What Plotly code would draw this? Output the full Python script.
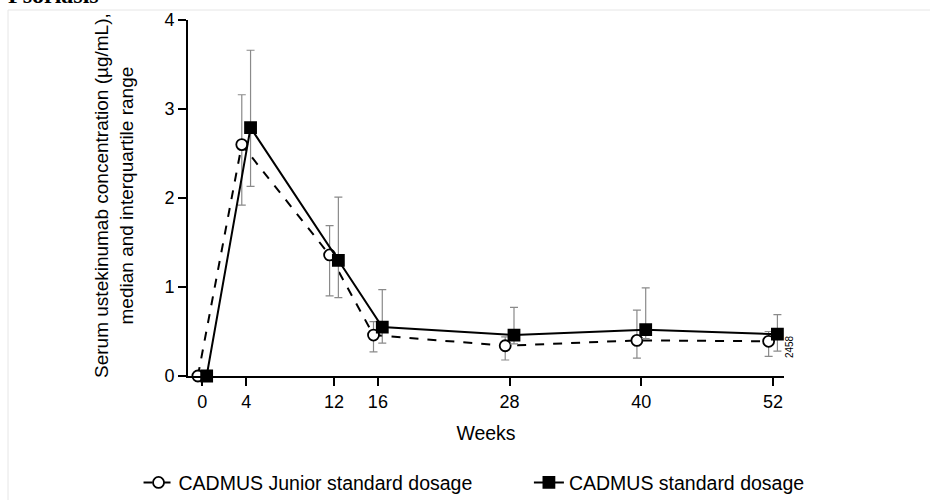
import plotly.graph_objects as go

weeks = [0, 4, 12, 16, 28, 40, 52]
week_ticks = [0, 4, 12, 16, 28, 40, 52]

junior_median = [0.0, 2.60, 1.36, 0.46, 0.34, 0.40, 0.39]
junior_q1 = [0.0, 1.92, 0.90, 0.27, 0.18, 0.20, 0.22]
junior_q3 = [0.0, 3.16, 1.69, 0.61, 0.44, 0.74, 0.50]

std_median = [0.0, 2.79, 1.30, 0.55, 0.46, 0.52, 0.47]
std_q1 = [0.0, 2.13, 0.88, 0.37, 0.36, 0.42, 0.28]
std_q3 = [0.0, 3.66, 2.01, 0.97, 0.77, 0.99, 0.69]

dodge = 0.4
FONT = "Liberation Sans, Arial, sans-serif"

fig = go.Figure()

def add_series(name, med, q1, q3, shift, dash, symbol, fill, legend):
    xs = [w + shift for w in weeks]
    fig.add_trace(go.Scatter(
        x=xs, y=med, name=name, mode="lines+markers", legend=legend,
        line=dict(color="black", width=2, dash=dash),
        marker=dict(symbol=symbol, size=11, color=fill,
                    line=dict(color="black", width=1.8)),
        error_y=dict(type="data", symmetric=False,
                     array=[h - m for h, m in zip(q3, med)],
                     arrayminus=[m - l for m, l in zip(med, q1)],
                     color="#8a8a8a", thickness=1.2, width=4),
        cliponaxis=False,
    ))

add_series("CADMUS Junior standard dosage", junior_median, junior_q1, junior_q3,
           -dodge, "dash", "circle", "white", "legend")
add_series("CADMUS standard dosage", std_median, std_q1, std_q3,
           dodge, "solid", "square", "black", "legend2")

legend_common = dict(orientation="h", yanchor="middle", y=-0.30, xanchor="left",
                     font=dict(size=19.5), bgcolor="rgba(0,0,0,0)")

fig.update_layout(
    width=930, height=500,
    margin=dict(l=188, r=146, t=20, b=124, autoexpand=False),
    paper_bgcolor="white", plot_bgcolor="white",
    font=dict(family=FONT, size=17, color="black"),
    showlegend=True,
    legend=dict(x=-0.083, **legend_common),
    legend2=dict(x=0.572, **legend_common),
    xaxis=dict(range=[-1.3, 53.0], tickmode="array", tickvals=week_ticks,
               ticktext=[str(t) for t in week_ticks],
               showline=True, linecolor="black", linewidth=2,
               ticks="outside", ticklen=8, tickwidth=2, tickcolor="black",
               showgrid=False, zeroline=False, automargin=False,
               title=dict(text="Weeks", font=dict(size=19.5), standoff=16),
               tickfont=dict(size=18)),
    yaxis=dict(range=[0, 4], tickvals=[0, 1, 2, 3, 4],
               showline=True, linecolor="black", linewidth=2,
               ticks="outside", ticklen=8, tickwidth=2, tickcolor="black",
               showgrid=False, zeroline=False, automargin=False,
               tickfont=dict(size=18)),
)

fig.add_annotation(
    text="Serum ustekinumab concentration (µg/mL),<br>median and interquartile range",
    xref="paper", yref="paper", x=-0.124, y=0.506, textangle=-90,
    showarrow=False, font=dict(size=19), xanchor="center", yanchor="middle")

fig.add_annotation(text="2458", xref="paper", yref="paper", x=1.022, y=0.045,
                   textangle=-90, showarrow=False, font=dict(size=10))

fig.add_annotation(text="<b>Psoriasis</b>", xref="paper", yref="paper", x=-0.305, y=1.027,
                   xanchor="left", yanchor="bottom", showarrow=False,
                   font=dict(family="Liberation Serif, serif", size=24, color="black"))

fig.add_shape(type="rect", xref="paper", yref="paper",
              x0=-0.302, x1=1.26, y0=-0.37, y1=1.028,
              line=dict(color="#e6e6e6", width=1))

fig.write_html("out.html", config={"displayModeBar": False},
               post_script="document.body.style.margin='0';document.body.style.overflow='hidden';")
